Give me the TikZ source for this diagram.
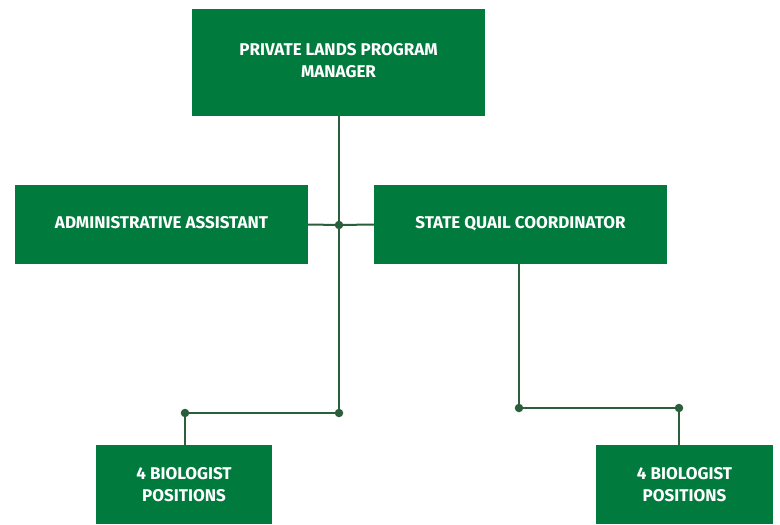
\documentclass[tikz,border=0pt]{standalone}
\usepackage{fontspec}
\setmainfont{Fira Sans}
\usetikzlibrary{positioning}
\definecolor{boxgreen}{HTML}{007A3D}
\definecolor{linegreen}{HTML}{2B5E3B}

\begin{document}
\begin{tikzpicture}[x=1pt,y=-1pt, font=\fontsize{17}{22}\selectfont\bfseries,
  orgbox/.style={fill=boxgreen, text=white, align=center, inner sep=0pt, text depth=5pt},
  link/.style={draw=linegreen, line width=2pt},
  joint/.style={circle, fill=linegreen, inner sep=0pt, minimum size=8.5pt}]
\useasboundingbox (0,0) rectangle (780,525);
%Nodes
\node[orgbox, minimum width=293pt, minimum height=107pt] (manager) at (338.5,62.5) {PRIVATE LANDS PROGRAM\\MANAGER};
\node[orgbox, minimum width=293pt, minimum height=79pt]  (admin)   at (161.5,224.5) {ADMINISTRATIVE ASSISTANT};
\node[orgbox, minimum width=293pt, minimum height=79pt]  (quail)   at (520.5,224.5) {STATE QUAIL COORDINATOR};
\node[orgbox, minimum width=176pt, minimum height=79pt, text depth=0pt] (bioleft) at (184,484.5) {4 BIOLOGIST\\POSITIONS};
\node[orgbox, minimum width=177pt, minimum height=79pt, text depth=0pt] (bioright) at (684.5,484.5) {4 BIOLOGIST\\POSITIONS};

%Joints
\node[joint] (j1) at (339,225) {};
\node[joint] (j2) at (339,413) {};
\node[joint] (j3) at (185,413) {};
\node[joint] (j4) at (519,408) {};
\node[joint] (j5) at (679,408) {};

\draw[link] (manager.south -| j1) -- (j1.center);
\draw[link] (j1.center) -- (j2.center);
\draw[link] (admin.east) -- (j1.center);
\draw[link] (j1.center) -- (quail.west);
\draw[link] (j2.center) -- (j3.center);
\draw[link] (j3.center) -- (bioleft.north -| j3);
\draw[link] (quail.south -| j4) -- (j4.center);
\draw[link] (j4.center) -- (j5.center);
\draw[link] (j5.center) -- (bioright.north -| j5);
\end{tikzpicture}
\end{document}
